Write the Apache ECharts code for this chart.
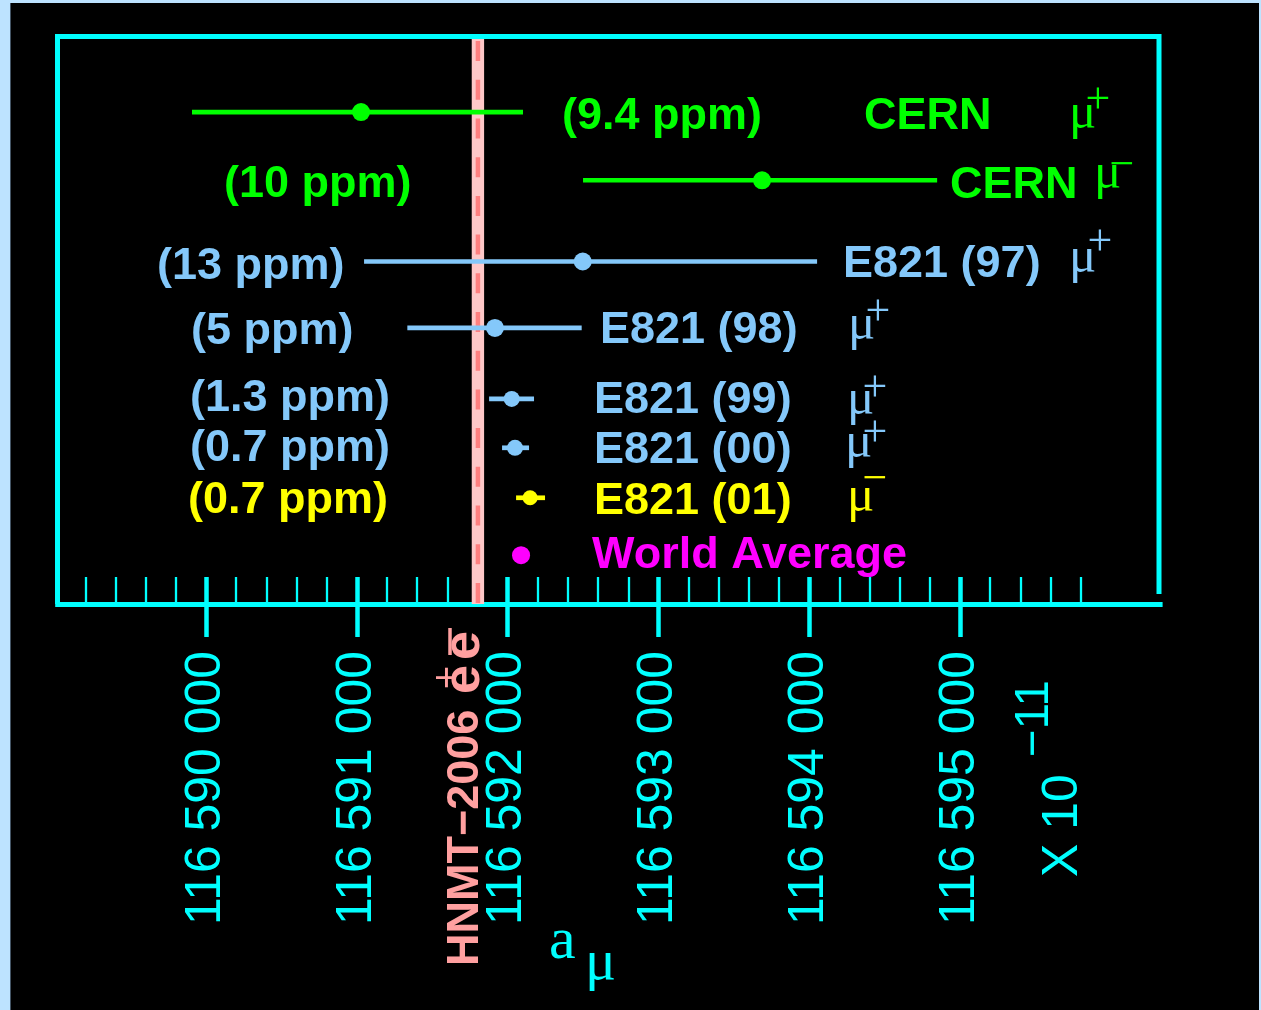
<!DOCTYPE html>
<html>
<head>
<meta charset="utf-8">
<script src="https://cdn.jsdelivr.net/npm/echarts@6.0.0/dist/echarts.min.js"></script>
<style>
  html, body { margin: 0; padding: 0; width: 1261px; height: 1010px; overflow: hidden; background: #bde3ff; }
  #panel { position: absolute; left: 10px; top: 3px; width: 1249px; height: 1007px; background: #000; border-left: 1px solid #445566; box-sizing: border-box; }
  #chart { position: absolute; left: 0; top: 0; width: 1261px; height: 1010px; }
</style>
</head>
<body>
<div id="panel"></div>
<div id="chart"></div>
<script>
// ---------------- DATA ----------------
const experiments = ['CERN', 'CERN', 'E821 (97)', 'E821 (98)', 'E821 (99)', 'E821 (00)', 'E821 (01)', 'World Average'];
const muCharge    = ['+', '−', '+', '+', '+', '+', '−', ''];
const precision   = ['(9.4 ppm)', '(10 ppm)', '(13 ppm)', '(5 ppm)', '(1.3 ppm)', '(0.7 ppm)', '(0.7 ppm)', ''];
// a_mu in units of 1e-11
const aMu     = [116591028, 116593687, 116592498, 116591916, 116592027, 116592049, 116592149, 116592089];
const errLow  = [1121, 1187, 1450, 581, 150, 86, 93, 55];
const errHigh = [1074, 1161, 1554, 575, 148, 93, 99, 55];
// vertical row position of each measurement (arbitrary row units, 0 = top of frame)
const rowPos  = [1.34, 2.54, 3.97, 5.14, 6.39, 7.25, 8.13, 9.14];

const theoryName  = 'HNMT−2006';
const theoryValue = 116591803;
const theoryErr   = 41;

const majorTicks = [116590000, 116591000, 116592000, 116593000, 116594000, 116595000];
const tickLabels = ['116 590 000', '116 591 000', '116 592 000', '116 593 000', '116 594 000', '116 595 000'];
const minorTicks = [
  116589200, 116589400, 116589600, 116589800,
  116590200, 116590400, 116590600, 116590800,
  116591200, 116591400, 116591600, 116591800,
  116592200, 116592400, 116592600, 116592800,
  116593200, 116593400, 116593600, 116593800,
  116594200, 116594400, 116594600, 116594800,
  116595200, 116595400, 116595600, 116595800
];
const xMin = 116589000;
const xMax = 116596343;

// ---------------- STYLE / LAYOUT ----------------
const GREEN = '#00ff00', BLUE = '#84c8fa', YELLOW = '#ffff00', MAGENTA = '#ff00ff', CYAN = '#00ffff';
const rowColors = [GREEN, GREEN, BLUE, BLUE, BLUE, BLUE, YELLOW, MAGENTA];
const markerR = [9, 9, 9, 9, 8, 8, 7.5, 9];
const ppmLayout = [[562,117],[224,184.5],[157,267],[191,332],[190,399],[190,449],[188,500.5]];
const expLayout = [[864,117],[950,185.5],[843,265],[600,331],[594,401],[594,450.5],[594,502],[592,556]];
const muLayout  = [[1069,132],[1094,192],[1069,276],[848,343],[847,418],[845,461],[847,515]];
const signLayout= [[1098,102],[1122,167],[1100,244],[878,314],[875,390],[875,435],[875,481]];

const SANS = "'Liberation Sans', Arial, Helvetica, sans-serif";
const SERIF = "'Liberation Serif', 'Times New Roman', serif";
const NARROW_CANDIDATES = ['Liberation Sans Narrow', 'Arial Narrow', 'Nimbus Sans Narrow'];

function hasFont(f) {
  const ctx = document.createElement('canvas').getContext('2d');
  const s = '116 590 000 abcXYZ';
  ctx.font = '100px monospace';
  const w0 = ctx.measureText(s).width;
  ctx.font = "100px '" + f + "', monospace";
  return Math.abs(ctx.measureText(s).width - w0) > 0.5;
}
const availableNarrow = NARROW_CANDIDATES.filter(hasFont);
const NARROW = availableNarrow.length ? ("'" + availableNarrow[0] + "', " + SANS) : SANS;

function fitFont(text, target, family, weight) {
  const ctx = document.createElement('canvas').getContext('2d');
  ctx.font = (weight || 'normal') + ' 100px ' + family;
  return 100 * target / ctx.measureText(text).width;
}
const axisFont = fitFont('116 590 000', 274, NARROW, 'normal');

const chart = echarts.init(document.getElementById('chart'), null, { renderer: 'canvas' });

const graphics = [];
function addText(text, x, y, opts) {
  graphics.push({
    type: 'text', x: x, y: y, z: 50, rotation: opts.rotation || 0,
    style: {
      text: text, fill: opts.fill, fontSize: opts.size, fontFamily: opts.family,
      fontWeight: opts.weight || 'normal', align: opts.align || 'left', verticalAlign: 'middle'
    }
  });
}
// frame
graphics.push({
  type: 'polyline', z: 60,
  shape: { points: [[57.5, 604], [57.5, 36.5], [1159, 36.5], [1159, 594]] },
  style: { stroke: CYAN, lineWidth: 5, fill: null, lineJoin: 'miter' }
});
// per-row texts
experiments.forEach((name, i) => {
  const col = rowColors[i];
  if (precision[i]) addText(precision[i], ppmLayout[i][0], ppmLayout[i][1], { fill: col, size: 45, family: SANS, weight: 'bold' });
  addText(name, expLayout[i][0], expLayout[i][1], { fill: col, size: 45, family: SANS, weight: 'bold' });
  if (muCharge[i]) {
    addText('μ', muLayout[i][0], muLayout[i][1] - 17, { fill: col, size: 51, family: SERIF });
    addText(muCharge[i], signLayout[i][0], signLayout[i][1] - 1, { fill: col, size: 44, family: SERIF, align: 'center' });
  }
});
// a_mu axis title
addText('a', 549, 962 - 20.2, { fill: CYAN, size: 60, family: SERIF });
addText('μ', 585, 983 - 19.6, { fill: CYAN, size: 58, family: SERIF });
// X 10^-11
addText('X 10', 1063.5, 877, { fill: CYAN, size: axisFont, family: NARROW, rotation: Math.PI / 2 });
addText('−11', 1035, 757, { fill: CYAN, size: axisFont * 0.95, family: NARROW, rotation: Math.PI / 2 });
// HNMT-2006 e+e- rotated label
const PINK = '#ffa0a0';
graphics.push({
  type: 'group', x: 466, y: 966, rotation: Math.PI / 2, z: 50,
  children: [
    { type: 'text', x: 0, y: 0, style: { text: theoryName, fill: PINK, fontSize: 45, fontWeight: 'bold', fontFamily: SANS, align: 'left', verticalAlign: 'middle' } },
    { type: 'text', x: 272, y: -1, style: { text: 'e', fill: PINK, fontSize: 52, fontWeight: 'bold', fontFamily: SANS, align: 'left', verticalAlign: 'middle' } },
    { type: 'text', x: 306, y: -1, style: { text: 'e', fill: PINK, fontSize: 52, fontWeight: 'bold', fontFamily: SANS, align: 'left', verticalAlign: 'middle' } },
    { type: 'text', x: 288.5, y: -17.5, style: { text: '+', fill: PINK, fontSize: 40, fontFamily: SANS, align: 'center', verticalAlign: 'middle' } },
    { type: 'line', shape: { x1: 311, y1: -16, x2: 338, y2: -16 }, style: { stroke: PINK, lineWidth: 3.5 } }
  ]
});

const commonX = {
  type: 'value', min: xMin, max: xMax, gridIndex: 0, position: 'bottom',
  splitLine: { show: false }, axisLine: { show: false, onZero: false }
};

const option = {
  animation: false,
  backgroundColor: 'transparent',
  grid: { left: 55.2, right: 98.4, top: 36, bottom: 406, containLabel: false },
  xAxis: [
    Object.assign({}, commonX, {
      axisLine: { show: true, onZero: false, lineStyle: { color: CYAN, width: 5, cap: 'butt' } },
      axisTick: { show: true, customValues: majorTicks, inside: false, length: 33, lineStyle: { color: CYAN, width: 4.5 } },
      axisLabel: {
        show: true, customValues: majorTicks, rotate: 90, margin: 47, color: CYAN,
        fontFamily: NARROW, fontSize: axisFont,
        formatter: v => tickLabels[majorTicks.indexOf(v)] || ''
      }
    }),
    Object.assign({}, commonX, {
      axisTick: { show: true, customValues: majorTicks, inside: true, length: 27, lineStyle: { color: CYAN, width: 4.5 } },
      axisLabel: { show: false }
    }),
    Object.assign({}, commonX, {
      axisTick: { show: true, customValues: minorTicks, inside: true, length: 27, lineStyle: { color: CYAN, width: 2.3 } },
      axisLabel: { show: false }
    })
  ],
  yAxis: { type: 'value', min: 0, max: 10, inverse: true, show: false },
  graphic: graphics,
  series: [
    {
      name: theoryName, type: 'custom', z: 1, silent: true,
      data: [[theoryValue, theoryErr]],
      encode: { x: 0 },
      renderItem: function (params, api) {
        const cs = params.coordSys;
        const v = api.value(0), e = api.value(1);
        const l = api.coord([v - e, 0])[0];
        const r = api.coord([v + e, 0])[0];
        const c = api.coord([v, 0])[0];
        return {
          type: 'group', children: [
            { type: 'rect', shape: { x: l, y: cs.y, width: r - l, height: cs.height }, style: { fill: '#ffc8c8' } },
            { type: 'line', shape: { x1: c, y1: cs.y, x2: c, y2: cs.y + cs.height },
              style: { stroke: '#ff8080', lineWidth: 4.5, lineDash: [20, 18.7], lineDashOffset: 33.6 } }
          ]
        };
      }
    },
    {
      name: 'measurements', type: 'custom', z: 3, silent: true,
      data: aMu.map((v, i) => [v, errLow[i], errHigh[i], rowPos[i]]),
      encode: { x: 0, y: 3 },
      renderItem: function (params, api) {
        const i = params.dataIndex;
        const v = api.value(0), lo = api.value(1), hi = api.value(2), row = api.value(3);
        const p = api.coord([v, row]);
        const a = api.coord([v - lo, row]);
        const b = api.coord([v + hi, row]);
        const col = rowColors[i];
        return {
          type: 'group', children: [
            { type: 'line', shape: { x1: a[0], y1: a[1], x2: b[0], y2: b[1] }, style: { stroke: col, lineWidth: 4.7 } },
            { type: 'circle', shape: { cx: p[0], cy: p[1], r: markerR[i] }, style: { fill: col } }
          ]
        };
      }
    }
  ]
};
chart.setOption(option);
</script>
</body>
</html>
